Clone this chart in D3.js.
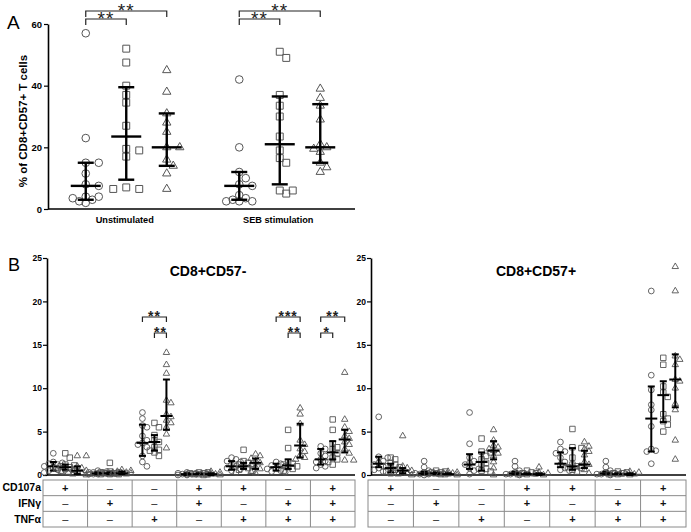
<!DOCTYPE html>
<html lang="en">
<head>
<meta charset="utf-8">
<title>CD8+CD57 T cells</title>
<script src="https://cdn.jsdelivr.net/npm/d3@7"></script>
<style>
  body { margin: 0; background: #fff; }
  text { font-family: "Liberation Sans", Arial, sans-serif; }
</style>
</head>
<body>
<svg width="691" height="532"></svg>
<script>
// ---- data ----
var shapes = ["circle", "square", "triangle"];

// panel A: % of CD8+ T cells that are CD57+
var aGroups = ["Unstimulated", "SEB stimulation"];
var aUnstim = [
  [57, 23, 15, 15, 11.5, 8, 7.5, 4, 4, 3.5, 3, 2.5, 2],
  [52, 47.5, 40, 37, 34.5, 27, 19.5, 19, 17, 7, 6.5, 6.5],
  [45, 38, 31, 28, 25, 20, 20, 16, 14, 11.5, 6.5]
];
var aSeb = [
  [42, 20, 12, 10, 8, 7.5, 4.5, 3.5, 3, 2.5, 2.5, 2.5],
  [51, 49, 37, 33.5, 30, 23.5, 19, 16.5, 15, 6, 5, 6],
  [39, 36, 33.5, 29, 21, 20, 19.5, 18.5, 15, 13.5, 12]
];
// [median, lower, upper]
var aUnstimStats = [[7.5, 3, 15], [23.5, 9.5, 39.5], [20, 14, 31]];
var aSebStats = [[7.5, 3, 12], [21, 8, 36.5], [20, 15, 34]];
var aTicks = [0, 20, 40, 60];

// panel B: functional combinations
var cytokines = ["CD107a", "IFNγ", "TNFα"];
var combos = [
  ["+", "–", "–"], ["–", "+", "–"], ["–", "–", "+"], ["+", "+", "–"],
  ["+", "–", "+"], ["–", "+", "+"], ["+", "+", "+"]
];
var bTicks = [0, 5, 10, 15, 20, 25];

var cd57neg = [
  [[2.5, 1.5, 1.4, 1.3, 1.2, 1.0, 0.8, 0.6, 0.5, 0.4, 0.3], [2.5, 2.0, 1.2, 1.1, 1.0, 0.9, 0.8, 0.7, 0.6, 0.5], [2.2, 2.2, 1.0, 0.8, 0.6, 0.5, 0.4, 0.3, 0.2, 0.1, 0.0]],
  [[0.5, 0.4, 0.3, 0.3, 0.3, 0.2, 0.2, 0.2, 0.1, 0.1, 0.1], [1.4, 0.4, 0.3, 0.3, 0.2, 0.2, 0.2, 0.1, 0.1, 0.1], [0.6, 0.5, 0.4, 0.3, 0.3, 0.2, 0.2, 0.1, 0.1, 0.1]],
  [[7.2, 6.5, 5.7, 5.5, 4.5, 4.0, 3.7, 3.5, 3.2, 2.2, 1.5, 1.0], [6.0, 5.5, 4.6, 4.0, 3.8, 3.2, 2.9, 2.8, 2.6, 2.2], [14.1, 12.7, 11.7, 8.6, 8.3, 7.0, 6.7, 6.3, 6.0, 5.5, 4.7, 3.1]],
  [[0.3, 0.2, 0.2, 0.1, 0.1, 0.1, 0.1, 0.0, 0.0], [0.3, 0.3, 0.2, 0.2, 0.1, 0.1, 0.1, 0.0], [0.4, 0.3, 0.2, 0.1, 0.1, 0.1, 0.0, 0.0]],
  [[2.0, 1.8, 1.6, 1.5, 1.2, 1.0, 0.8, 0.7, 0.5, 0.3], [2.9, 1.6, 1.4, 1.2, 1.1, 1.0, 0.8, 0.6, 0.5], [2.4, 2.2, 1.9, 1.6, 1.4, 1.2, 0.9, 0.7, 0.4, 0.2]],
  [[1.5, 1.3, 1.1, 1.0, 0.8, 0.7, 0.5, 0.4, 0.3], [5.2, 3.1, 1.5, 1.3, 1.2, 1.0, 0.9, 0.7, 0.5], [7.7, 7.0, 5.9, 4.0, 3.5, 3.0, 2.7, 2.3, 2.0, 1.8]],
  [[3.3, 3.0, 2.5, 2.2, 1.8, 1.6, 1.5, 1.2, 1.0, 0.8], [6.4, 5.2, 3.6, 3.2, 3.0, 2.5, 2.0, 1.8, 1.5, 1.2], [11.8, 6.4, 5.5, 5.0, 4.5, 4.2, 3.8, 3.5, 3.0, 2.5, 1.7, 1.7]]
];
var cd57negStats = [
  [[1.0, 0.5, 1.5], [0.9, 0.6, 1.2], [0.5, 0.1, 1.0]],
  [[0.2, 0.1, 0.3], [0.2, 0.1, 0.3], [0.2, 0.1, 0.4]],
  [[3.7, 2.2, 5.8], [3.8, 2.8, 4.6], [6.8, 5.2, 11.0]],
  [[0.1, 0.0, 0.2], [0.1, 0.1, 0.2], [0.1, 0.0, 0.2]],
  [[1.0, 0.6, 1.6], [1.0, 0.7, 1.4], [1.4, 0.7, 1.9]],
  [[0.9, 0.5, 1.3], [1.1, 0.7, 1.8], [3.4, 2.0, 5.9]],
  [[1.8, 1.2, 3.0], [2.6, 1.8, 3.9], [4.1, 2.6, 5.2]]
];

var cd57pos = [
  [[6.7, 2.1, 2.0, 1.6, 1.4, 1.2, 1.0, 0.8, 0.6, 0.4], [2.0, 1.8, 1.4, 1.2, 1.0, 0.9, 0.8, 0.6, 0.4, 0.2], [4.5, 1.0, 0.8, 0.7, 0.5, 0.4, 0.3, 0.2, 0.1, 0.0]],
  [[1.6, 0.9, 0.5, 0.3, 0.2, 0.2, 0.1, 0.1, 0.0], [0.5, 0.4, 0.3, 0.3, 0.2, 0.2, 0.1, 0.1], [0.4, 0.3, 0.2, 0.2, 0.1, 0.1, 0.0]],
  [[7.2, 3.6, 2.0, 1.6, 1.4, 1.2, 0.8, 0.7, 0.5, 0.1], [4.2, 2.7, 2.6, 2.2, 1.8, 1.4, 1.2, 0.7, 0.5, 0.4], [5.2, 4.0, 3.4, 3.2, 3.0, 2.8, 2.5, 2.2, 1.5, 0.8, 0.0]],
  [[1.6, 1.0, 0.5, 0.3, 0.2, 0.1, 0.1, 0.0], [0.5, 0.3, 0.2, 0.2, 0.1, 0.1], [0.9, 0.3, 0.2, 0.1, 0.0]],
  [[3.8, 3.0, 2.7, 2.5, 2.0, 1.5, 1.2, 0.8, 0.6, 0.5], [5.3, 3.2, 3.1, 2.0, 1.2, 1.0, 0.9, 0.8, 0.6, 0.4], [3.8, 3.3, 3.0, 2.7, 2.3, 1.5, 1.2, 1.0, 0.6, 0.2]],
  [[1.6, 0.9, 0.5, 0.3, 0.2, 0.1, 0.1, 0.0], [0.4, 0.3, 0.2, 0.2, 0.1, 0.1], [0.4, 0.3, 0.2, 0.1, 0.1, 0.0]],
  [[21.2, 11.5, 9.8, 8.1, 7.5, 5.6, 3.0, 2.8, 2.7, 1.3], [13.5, 12.7, 10.2, 9.5, 9.0, 7.0, 6.5, 6.2, 5.8, 5.0], [24.0, 21.2, 13.7, 13.3, 12.7, 11.0, 10.8, 10.0, 8.2, 7.5, 4.0, 1.8]]
];
var cd57posStats = [
  [[1.3, 0.9, 2.1], [0.8, 0.3, 1.3], [0.5, 0.2, 0.8]],
  [[0.2, 0.1, 0.4], [0.2, 0.1, 0.3], [0.1, 0.1, 0.2]],
  [[1.2, 0.7, 2.4], [1.5, 0.5, 2.6], [2.8, 1.8, 3.9]],
  [[0.2, 0.1, 0.4], [0.1, 0.1, 0.2], [0.1, 0.0, 0.2]],
  [[1.3, 0.9, 2.6], [1.0, 0.6, 3.1], [1.2, 0.8, 2.8]],
  [[0.2, 0.1, 0.4], [0.1, 0.1, 0.2], [0.1, 0.0, 0.2]],
  [[6.5, 2.7, 10.2], [9.2, 6.1, 10.8], [11.0, 7.8, 13.9]]
];

// significance: [group, fromSeries, toSeries, label, tier]
var aSig = [[0, 0, 1, "**", 0], [0, 0, 2, "**", 1], [1, 0, 1, "**", 0], [1, 0, 2, "**", 1]];
var bSig = [[2, 1, 2, "**", 0], [2, 0, 2, "**", 1], [5, 1, 2, "**", 0], [5, 0, 2, "***", 1], [6, 0, 1, "*", 0], [6, 0, 2, "**", 1]];

// ---- drawing ----
var svg = d3.select("svg");
var markStroke = "#555";

var symbolTypes = { circle: d3.symbolCircle, square: d3.symbolSquare, triangle: d3.symbolTriangle };

// spread overlapping points sideways
function swarm(vals, y, step, minDist, maxK) {
  var placed = [];
  return vals.map(function(v) {
    var py = y(v), best = 0, bestD = -1;
    for (var k = 0; k <= maxK; k++) {
      var dx = (k % 2 ? 1 : -1) * Math.ceil(k / 2) * step;
      var d = d3.min(placed, function(p) { return Math.hypot(p[0] - dx, p[1] - py); });
      if (d === undefined) d = Infinity;
      if (d >= minDist) { best = dx; bestD = d; break; }
      if (d > bestD) { bestD = d; best = dx; }
    }
    placed.push([best, py]);
    return [best, py];
  });
}

function drawSeries(g, vals, stat, cx, y, shape, opt) {
  var pts = swarm(vals, y, opt.step, opt.minDist, opt.maxK);
  var sym = d3.symbol().type(symbolTypes[shape]).size(opt.sizes[shape]);
  g.selectAll(null).data(pts).enter().append("path")
    .attr("d", sym)
    .attr("transform", function(p) { return "translate(" + (cx + p[0]) + "," + p[1] + ")"; })
    .attr("fill", "none")
    .attr("stroke", markStroke)
    .attr("stroke-width", opt.markWidth);
  var e = g.append("g").attr("stroke", "#000").attr("stroke-width", opt.barWidth);
  e.append("line").attr("x1", cx).attr("x2", cx).attr("y1", y(stat[1])).attr("y2", y(stat[2]));
  [stat[1], stat[2]].forEach(function(v) {
    e.append("line").attr("x1", cx - opt.cap).attr("x2", cx + opt.cap).attr("y1", y(v)).attr("y2", y(v));
  });
  e.append("line").attr("x1", cx - opt.med).attr("x2", cx + opt.med).attr("y1", y(stat[0])).attr("y2", y(stat[0]));
}

function styleAxis(ax, fontSize) {
  ax.select(".domain").attr("stroke-width", 1.6);
  ax.selectAll(".tick line").attr("stroke-width", 1.2);
  ax.selectAll(".tick text").attr("font-size", fontSize).attr("font-weight", "bold")
    .attr("font-family", "Liberation Sans, Arial, sans-serif");
}

function bracket(g, x1, x2, yy, label, fs, drop, weight) {
  g.append("path")
    .attr("d", "M" + x1 + "," + (yy + drop) + "V" + yy + "H" + x2 + "V" + (yy + drop))
    .attr("fill", "none").attr("stroke", "#222").attr("stroke-width", 1.2);
  g.append("text").attr("x", (x1 + x2) / 2).attr("y", yy + fs * 0.42 - 1.5)
    .attr("text-anchor", "middle").attr("font-size", fs).attr("letter-spacing", 1)
    .attr("font-weight", weight).attr("fill", "#222").text(label);
}

// ---------- panel A ----------
var yA = d3.scaleLinear().domain([0, 60]).range([209, 24]);
var xA = d3.scaleBand().domain(aGroups).range([48, 355]);
var inA = d3.scalePoint().domain(shapes).range([-39, 42]);
var gA = svg.append("g");

svg.append("text").attr("x", 7).attr("y", 29).attr("font-size", 19).text("A");

var axA = gA.append("g").attr("transform", "translate(48,0)")
  .call(d3.axisLeft(yA).tickValues(aTicks).tickSize(4).tickSizeOuter(0).tickPadding(2));
styleAxis(axA, 9.5);
gA.append("line").attr("x1", 48).attr("x2", 355).attr("y1", yA(0)).attr("y2", yA(0))
  .attr("stroke", "#000").attr("stroke-width", 1.6);
gA.selectAll(".cat").data(aGroups).enter().append("text")
  .attr("x", function(d) { return xA(d) + xA.bandwidth() / 2; })
  .attr("y", 223).attr("text-anchor", "middle")
  .attr("font-size", 9.2).attr("font-weight", "bold").text(function(d) { return d; });
gA.append("text").attr("transform", "translate(27,121) rotate(-90)")
  .attr("text-anchor", "middle").attr("font-size", 11.5).attr("font-weight", "bold")
  .text("% of CD8+CD57+ T cells");

var optA = { step: 6.5, minDist: 6.8, maxK: 4, markWidth: 1,
  sizes: { circle: 46, square: 48, triangle: 30 }, cap: 8, med: 15, barWidth: 2.4 };
[[aUnstim, aUnstimStats], [aSeb, aSebStats]].forEach(function(grp, gi) {
  var cx0 = xA(aGroups[gi]) + xA.bandwidth() / 2;
  shapes.forEach(function(s, si) {
    drawSeries(gA, grp[0][si], grp[1][si], cx0 + inA(s), yA, s, optA);
  });
});
var aTierY = [19, 11];
aSig.forEach(function(b) {
  var cx0 = xA(aGroups[b[0]]) + xA.bandwidth() / 2;
  bracket(gA, cx0 + inA(shapes[b[1]]), cx0 + inA(shapes[b[2]]), aTierY[b[4]], b[3], 19, 6, "normal");
});

// ---------- panel B ----------
svg.append("text").attr("x", 8).attr("y", 271).attr("font-size", 18).text("B");

var yB = d3.scaleLinear().domain([0, 25]).range([475, 258]);
var optB = { step: 4.5, minDist: 4.6, maxK: 4, markWidth: 0.9,
  sizes: { circle: 26, square: 30, triangle: 18 }, cap: 3.5, med: 6, barWidth: 2 };
var bTierY = [333, 317];

function panelB(title, data, stats, axisX, bandRange, axisEnd, sig, rowLabels) {
  var g = svg.append("g");
  var x = d3.scaleBand().domain(d3.range(combos.length)).range(bandRange);
  var inner = d3.scalePoint().domain(shapes).range([-12, 12]);

  var ax = g.append("g").attr("transform", "translate(" + axisX + ",0)")
    .call(d3.axisLeft(yB).tickValues(bTicks).tickSize(4).tickSizeOuter(0).tickPadding(1));
  styleAxis(ax, 8.5);
  g.append("line").attr("x1", axisX).attr("x2", axisEnd).attr("y1", yB(0)).attr("y2", yB(0))
    .attr("stroke", "#000").attr("stroke-width", 1.6);

  g.append("text").attr("x", (bandRange[0] + bandRange[1]) / 2 + 9).attr("y", 276)
    .attr("text-anchor", "middle").attr("font-size", 14).attr("font-weight", "bold").text(title);

  data.forEach(function(col, ci) {
    var cx0 = x(ci) + x.bandwidth() / 2;
    shapes.forEach(function(s, si) {
      drawSeries(g, col[si], stats[ci][si], cx0 + inner(s), yB, s, optB);
    });
  });

  sig.forEach(function(b) {
    var cx0 = x(b[0]) + x.bandwidth() / 2;
    bracket(g, cx0 + inner(shapes[b[1]]), cx0 + inner(shapes[b[2]]), bTierY[b[4]], b[3], 14, 5, "bold");
  });

  // table
  var rowY = d3.scaleBand().domain(cytokines).range([480, 527]);
  var t = g.append("g").attr("stroke", "#8a8a8a").attr("stroke-width", 1).attr("fill", "none");
  t.append("rect").attr("x", bandRange[0]).attr("y", 480)
    .attr("width", bandRange[1] - bandRange[0]).attr("height", 47);
  cytokines.slice(1).forEach(function(c) {
    t.append("line").attr("x1", bandRange[0]).attr("x2", bandRange[1])
      .attr("y1", rowY(c)).attr("y2", rowY(c));
  });
  d3.range(1, combos.length).forEach(function(ci) {
    t.append("line").attr("x1", x(ci)).attr("x2", x(ci)).attr("y1", 480).attr("y2", 527);
  });
  combos.forEach(function(cb, ci) {
    cb.forEach(function(sign, ri) {
      g.append("text").attr("x", x(ci) + x.bandwidth() / 2)
        .attr("y", rowY(cytokines[ri]) + rowY.bandwidth() / 2 + 3.8)
        .attr("text-anchor", "middle").attr("font-size", 11)
        .attr("font-weight", sign === "+" ? "bold" : "normal")
        .attr("fill", "#111").text(sign);
    });
  });
  if (rowLabels) {
    cytokines.forEach(function(c) {
      g.append("text").attr("x", 41).attr("y", rowY(c) + rowY.bandwidth() / 2 + 3.5)
        .attr("text-anchor", "end").attr("font-size", 10.5).attr("font-weight", "bold").text(c);
    });
  }
}

panelB("CD8+CD57-", cd57neg, cd57negStats, 47, [43, 355], 355, bSig, true);
panelB("CD8+CD57+", cd57pos, cd57posStats, 371, [368, 686], 686, [], false);
</script>
</body>
</html>
